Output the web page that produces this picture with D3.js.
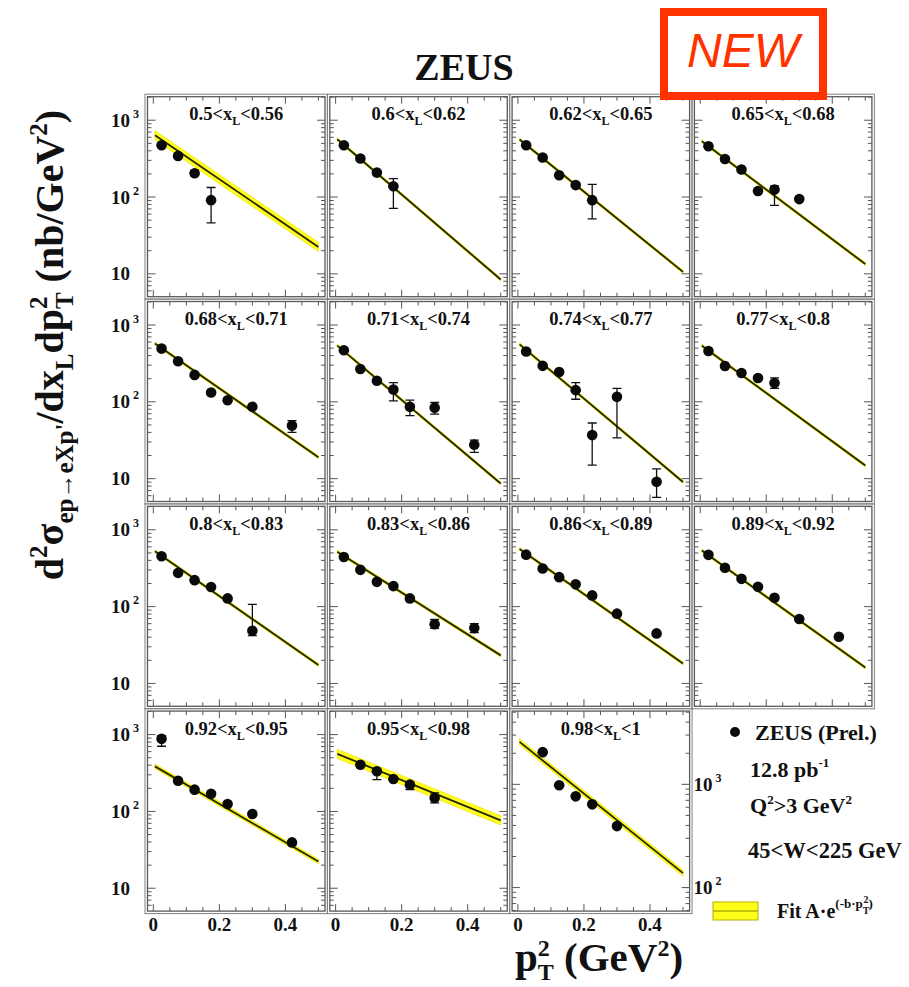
<!DOCTYPE html>
<html><head><meta charset="utf-8">
<script src="https://cdn.jsdelivr.net/npm/d3@7"></script>
<style>body{margin:0;background:#fff}svg{display:block}</style>
</head><body>
<script>
// ---------- data ----------
const xLlow  = ["0.5","0.6","0.62","0.65","0.68","0.71","0.74","0.77","0.8","0.83","0.86","0.89","0.92","0.95","0.98"];
const xLhigh = ["0.56","0.62","0.65","0.68","0.71","0.74","0.77","0.8","0.83","0.86","0.89","0.92","0.95","0.98","1"];
const pT2 = [0.025, 0.075, 0.125, 0.175, 0.225, 0.3, 0.42];
const sigma = [
  [472, 343, 204, 91, null, null, null],
  [472, 317, 208, 138, null, null, null],
  [472, 327, 192, 143, 91, null, null],
  [458, 313, 228, 120, 125, 94, null],
  [493, 337, 224, 132, 105, 86, 49],
  [469, 268, 188, 145, 86, 84, 27.7],
  [451, 294, 245, 142, 36.9, 116, 9.1],
  [458, 293, 237, 204, 176, null, null],
  [452, 275, 221, 180, 128, 48.4, null],
  [443, 301, 210, 185, 128, 59, 52.5],
  [475, 313, 242, 195, 140, 81, 44.8],
  [472, 320, 230, 181, 130, 69, 40.5],
  [880, 251, 192, 170, 125, 92.5, 39.5],
  [null, 406, 333, 264, 223, 150, null],
  [null, 2050, 980, 765, 640, 394, null]
];
const errLow = [
  [null, null, 190, 46, null, null, null],
  [null, null, null, 71, null, null, null],
  [null, null, null, null, 52, null, null],
  [null, null, null, null, 78, null, null],
  [null, null, null, null, null, null, 40],
  [null, null, null, 103, 66, 69, 22],
  [null, null, null, 108, 15, 34, 5.7],
  [null, null, null, null, 150, null, null],
  [null, null, null, null, null, 42, null],
  [null, null, null, null, null, 52, 46],
  [null, null, null, null, null, null, null],
  [null, null, null, null, null, null, null],
  [705, null, null, null, null, null, null],
  [null, null, 259, null, 192, 129, null],
  [null, null, null, null, null, null, null]
];
const errHigh = [
  [null, null, 222, 133, null, null, null],
  [null, null, null, 174, null, null, null],
  [null, null, null, null, 146, null, null],
  [null, null, null, null, 140, null, null],
  [null, null, null, null, null, null, 57],
  [null, null, null, 178, 105, 98, 31.8],
  [null, null, null, 178, 53, 150, 13.4],
  [null, null, null, null, 205, null, null],
  [null, null, null, null, null, 107, null],
  [null, null, null, null, null, 68, 60],
  [null, null, null, null, null, null, null],
  [null, null, null, null, null, null, null],
  [968, null, null, null, null, null, null],
  [null, null, 350, null, 240, 174, null],
  [null, null, null, null, null, null, null]
];
// fit A·exp(-b pT2): values read at both ends of the drawn line
const fitRange = [0.005, 0.5];
const fitStart = [638, 566, 561, 533, 573, 540, 559, 537, 525, 519, 562, 537, 386, 562, 2575];
const fitEnd   = [22.4, 8.44, 10.6, 13.4, 19.0, 8.65, 9.05, 14.8, 17.4, 23.2, 18.2, 16.1, 22.3, 76.4, 138];
const fitBand  = [0.06, 0.02, 0.02, 0.02, 0.02, 0.02, 0.02, 0.02, 0.02, 0.02, 0.02, 0.02, 0.03, 0.06, 0.03];
const xTickValues = [0, 0.2, 0.4];
const xTickLabels = ["0", "0.2", "0.4"];
const yTickValues = [10, 100, 1000];
const yTickExp = ["", "2", "3"];

// ---------- layout ----------
const W = 909, H = 987;
const svg = d3.select("body").append("svg").attr("width", W).attr("height", H);
const serif = "'Liberation Serif','Times New Roman',serif";
const colLeft = c => 147.5 + c * 182.3;
const rowTop = r => 96.7 + r * 204.8;
const PW = 177.5, PH = 200;

function rich(sel, parts) {
  let cur = 0;
  parts.forEach(p => {
    const sh = p.shift || 0;
    const t = sel.append("tspan").text(p.t).attr("dy", sh - cur);
    if (p.size) t.attr("font-size", p.size);
    if (p.dx) t.attr("dx", p.dx);
    cur = sh;
  });
}

const defs = svg.append("defs");

sigma.forEach((vals, i) => {
  const r = Math.floor(i / 4), c = i % 4;
  const L = colLeft(c), T = rowTop(r);
  const special = i === 14;
  const x = d3.scaleLinear().domain([-0.0176, 0.52]).range([L, L + PW]);
  const y = d3.scaleLog().domain(special ? [59.2, 5120] : [5.04, 2023]).range([T + PH, T]);
  const g = svg.append("g");
  const cid = "clip" + i;
  defs.append("clipPath").attr("id", cid).append("rect")
    .attr("x", L).attr("y", T).attr("width", PW).attr("height", PH);
  const gc = g.append("g").attr("clip-path", `url(#${cid})`);

  // fit band + line
  const hw = Math.pow(10, fitBand[i]);
  const fitPts = [{p: fitRange[0], v: fitStart[i]}, {p: fitRange[1], v: fitEnd[i]}];
  gc.append("path").datum(fitPts)
    .attr("d", d3.area().x(d => x(d.p)).y0(d => y(d.v / hw)).y1(d => y(d.v * hw)))
    .attr("fill", "#ffff1a").attr("stroke", "#e6dc00").attr("stroke-width", 0.6);
  gc.append("path").datum(fitPts)
    .attr("d", d3.line().x(d => x(d.p)).y(d => y(d.v)))
    .attr("fill", "none").attr("stroke", "#262600").attr("stroke-width", 1.8);

  // error bars
  vals.forEach((v, j) => {
    if (v == null) return;
    const lo = errLow[i][j], hi = errHigh[i][j];
    if (lo == null) return;
    const px = x(pT2[j]);
    gc.append("line").attr("x1", px).attr("x2", px).attr("y1", y(lo)).attr("y2", y(hi))
      .attr("stroke", "#111").attr("stroke-width", 1.3);
    [lo, hi].forEach(e => gc.append("line").attr("x1", px - 4.5).attr("x2", px + 4.5)
      .attr("y1", y(e)).attr("y2", y(e)).attr("stroke", "#111").attr("stroke-width", 1.3));
  });
  // points
  vals.forEach((v, j) => {
    if (v == null) return;
    gc.append("circle").attr("cx", x(pT2[j])).attr("cy", y(v)).attr("r", 5.3).attr("fill", "#0a0a0a");
  });

  // ticks
  const tk = g.append("g").attr("stroke", "#555").attr("stroke-width", 1);
  y.ticks().forEach(t => {
    const major = Math.abs(Math.log10(t) - Math.round(Math.log10(t))) < 1e-9;
    const len = major ? 8 : 4;
    const py = y(t);
    tk.append("line").attr("x1", L).attr("x2", L + len).attr("y1", py).attr("y2", py);
    tk.append("line").attr("x1", L + PW).attr("x2", L + PW - len).attr("y1", py).attr("y2", py);
  });
  x.ticks(10).forEach(t => {
    const major = xTickValues.some(v => Math.abs(v - t) < 1e-9);
    const len = major ? 7 : 4;
    const px = x(t);
    tk.append("line").attr("x1", px).attr("x2", px).attr("y1", T + PH).attr("y2", T + PH - len);
    tk.append("line").attr("x1", px).attr("x2", px).attr("y1", T).attr("y2", T + len);
  });

  // double border
  g.append("rect").attr("x", L).attr("y", T).attr("width", PW).attr("height", PH)
    .attr("fill", "none").attr("stroke", "#5a5a5a").attr("stroke-width", 1.3);
  g.append("rect").attr("x", L - 2.5).attr("y", T - 2.5).attr("width", PW + 5).attr("height", PH + 5)
    .attr("fill", "none").attr("stroke", "#808080").attr("stroke-width", 1);

  // title
  const tt = g.append("text").attr("x", L + PW / 2).attr("y", T + 23.5)
    .attr("text-anchor", "middle").attr("font-family", serif).attr("font-weight", "bold")
    .attr("font-size", 18.5).attr("fill", "#111");
  rich(tt, [{t: xLlow[i] + "<x"}, {t: "L", size: 12, shift: 5}, {t: "<" + xLhigh[i]}]);

  // y labels
  if (c === 0) {
    yTickValues.forEach((v, k) => {
      const lt = svg.append("text").attr("x", 111).attr("y", y(v) + 6.5)
        .attr("font-family", serif).attr("font-weight", "bold").attr("font-size", 19).attr("fill", "#111");
      rich(lt, [{t: "10"}, {t: yTickExp[k], size: 12, shift: -9, dx: 3}]);
    });
  }
  if (special) {
    [1000, 100].forEach((v, k) => {
      const lt = svg.append("text").attr("x", L + PW + 4).attr("y", y(v) + 6.5)
        .attr("font-family", serif).attr("font-weight", "bold").attr("font-size", 19).attr("fill", "#111");
      rich(lt, [{t: "10"}, {t: k === 0 ? "3" : "2", size: 12, shift: -9, dx: 3}]);
    });
  }
  // x labels on bottom row
  if (r === 3) {
    xTickValues.forEach((v, k) => {
      svg.append("text").attr("x", x(v)).attr("y", T + PH + 20).attr("text-anchor", "middle")
        .attr("font-family", serif).attr("font-weight", "bold").attr("font-size", 19)
        .attr("fill", "#111").text(xTickLabels[k]);
    });
  }
});

// ---------- titles ----------
svg.append("text").attr("x", 464).attr("y", 80).attr("text-anchor", "middle")
  .attr("font-family", serif).attr("font-weight", "bold").attr("font-size", 38)
  .attr("fill", "#111").text("ZEUS");

svg.append("rect").attr("x", 664).attr("y", 12).attr("width", 159).attr("height", 84)
  .attr("fill", "none").attr("stroke", "#ff3300").attr("stroke-width", 8);
svg.append("text").attr("x", 743).attr("y", 67).attr("text-anchor", "middle")
  .attr("font-family", "'Liberation Sans',Arial,sans-serif").attr("font-style", "italic")
  .attr("font-size", 48).attr("fill", "#ff3300").text("NEW");

// y axis title
const yt = svg.append("text").attr("transform", "translate(63,345) rotate(-90)")
  .attr("text-anchor", "middle").attr("font-family", serif).attr("font-weight", "bold")
  .attr("font-size", 40).attr("fill", "#111");
rich(yt, [
  {t: "d"}, {t: "2", size: 25, shift: -16}, {t: "σ"},
  {t: "ep→eXp'", size: 25, shift: 10}, {t: "/dx"}, {t: "L", size: 25, shift: 10},
  {t: "dp"}, {t: "2", size: 25, shift: -16}, {t: "T", size: 25, shift: 10, dx: -12.5},
  {t: " (nb/GeV"}, {t: "2", size: 25, shift: -16}, {t: ")"}
]);

// x axis title
const xt = svg.append("text").attr("x", 515).attr("y", 971)
  .attr("font-family", serif).attr("font-weight", "bold").attr("font-size", 41).attr("fill", "#111");
rich(xt, [
  {t: "p"}, {t: "2", size: 24, shift: -15}, {t: "T", size: 24, shift: 9, dx: -12},
  {t: " (GeV"}, {t: "2", size: 24, shift: -15}, {t: ")"}
]);

// ---------- legend ----------
svg.append("circle").attr("cx", 735).attr("cy", 732).attr("r", 5).attr("fill", "#0a0a0a");
const legTxt = (xx, yy, size, parts) => {
  const t = svg.append("text").attr("x", xx).attr("y", yy).attr("font-family", serif)
    .attr("font-weight", "bold").attr("font-size", size).attr("fill", "#111");
  rich(t, parts);
};
legTxt(755, 740, 22, [{t: "ZEUS (Prel.)"}]);
legTxt(750, 777, 22, [{t: "12.8 pb"}, {t: "-1", size: 13, shift: -10}]);
legTxt(750, 813, 22, [{t: "Q"}, {t: "2", size: 13, shift: -9}, {t: ">3 GeV"}, {t: "2", size: 13, shift: -9}]);
legTxt(748, 858, 22.5, [{t: "45<W<225 GeV"}]);
svg.append("rect").attr("x", 713).attr("y", 902).attr("width", 45).attr("height", 18)
  .attr("fill", "#ffff1a").attr("stroke", "#b8b000").attr("stroke-width", 1);
svg.append("line").attr("x1", 713).attr("x2", 758).attr("y1", 911).attr("y2", 911)
  .attr("stroke", "#8a8a00").attr("stroke-width", 1);
legTxt(777, 918, 20, [{t: "Fit A·e"}, {t: "(-b·p", size: 13, shift: -10}, {t: "T", size: 10, shift: -4},
  {t: "2", size: 10, shift: -15, dx: -6}, {t: ")", size: 13, shift: -10}]);
</script>
</body></html>
